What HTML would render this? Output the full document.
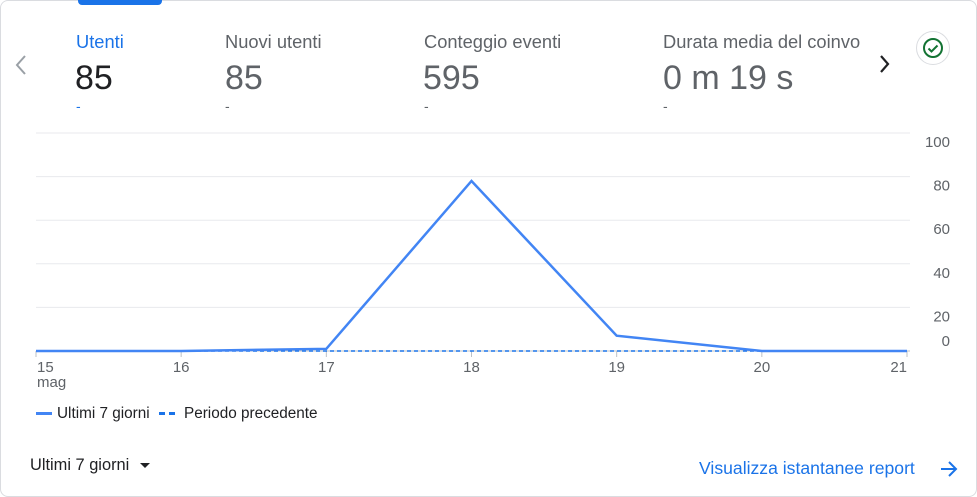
<!DOCTYPE html>
<html><head><meta charset="utf-8"><style>
body{margin:0;width:977px;height:497px;background:#fff;font-family:"Liberation Sans",sans-serif;overflow:hidden;position:relative}
.card{position:absolute;left:0;top:0;width:975px;height:495px;border:1px solid #dadce0;border-radius:8px;background:#fff}
.t{position:absolute;white-space:nowrap}
.lab{font-size:18.3px;color:#5f6368;top:31px}
.val{font-size:34px;color:#5f6368;top:59px}
.dash{font-size:14px;color:#5f6368;top:98px}
</style></head><body>
<div class="card"></div>
<div style="position:absolute;left:78px;top:0;width:84px;height:5px;background:#1a73e8;border-radius:0 0 4px 4px"></div>
<svg width="20" height="24" style="position:absolute;left:12px;top:53px"><path d="M13 3l-8 9 8 9" fill="none" stroke="#9aa0a6" stroke-width="2"/></svg>
<div>
<div class="t lab" style="left:76px;color:#1a73e8">Utenti</div>
<div class="t val" style="left:75px;color:#202124">85</div>
<div class="t dash" style="left:76px;color:#1a73e8">-</div></div>
<div>
<div class="t lab" style="left:225px">Nuovi utenti</div>
<div class="t val" style="left:225px">85</div>
<div class="t dash" style="left:225px">-</div></div>
<div>
<div class="t lab" style="left:424px">Conteggio eventi</div>
<div class="t val" style="left:423px">595</div>
<div class="t dash" style="left:424px">-</div></div>
<div>
<div class="t lab" style="left:663px">Durata media del coinvo</div>
<div class="t val" style="left:663px">0 m 19 s</div>
<div class="t dash" style="left:663px">-</div></div>
<svg width="20" height="24" style="position:absolute;left:876px;top:52px"><path d="M5 4l7 8-7 8" fill="none" stroke="#202124" stroke-width="2.2"/></svg>
<div style="position:absolute;left:916px;top:31px;width:34px;height:34px;border-radius:50%;border:1px solid #dadce0;box-sizing:border-box">
<svg width="34" height="34" style="position:absolute;left:-1px;top:-1px"><circle cx="17" cy="17" r="9" fill="none" stroke="#137333" stroke-width="2"/><path d="M12.5 17.5l3 3 6-6" fill="none" stroke="#137333" stroke-width="2"/></svg></div>
<svg id="chart" width="977" height="497" style="position:absolute;left:0;top:0"></svg>
<div class="t" style="left:36px;top:405px;font-size:15.3px;color:#202124"><span style="display:inline-block;width:16px;height:3px;background:#4285f4;vertical-align:middle;margin-right:5px"></span>Ultimi 7 giorni</div>
<div class="t" style="left:159px;top:405px;font-size:15.3px;color:#202124"><span style="display:inline-block;width:6px;height:3px;background:#1a73e8;vertical-align:middle;margin-right:4px"></span><span style="display:inline-block;width:6px;height:3px;background:#1a73e8;vertical-align:middle;margin-right:9px"></span>Periodo precedente</div>
<div class="t" style="left:30px;top:456px;font-size:16.4px;color:#202124">Ultimi 7 giorni <span style="display:inline-block;width:0;height:0;border-left:5px solid transparent;border-right:5px solid transparent;border-top:5px solid #202124;vertical-align:middle;margin-left:6px"></span></div>
<div class="t" style="left:699px;top:458px;font-size:17.6px;color:#1a73e8">Visualizza istantanee report</div>
<svg width="20" height="20" style="position:absolute;left:939px;top:459px"><path d="M2 10h15M10 3l7 7-7 7" fill="none" stroke="#1a73e8" stroke-width="2"/></svg>
<script>
const categories=["15","16","17","18","19","20","21"];
const current=[0,0,1,78,7,0,0];
const previous=[0,0,0,0,0,0,0];
const yTicks=[0,20,40,60,80,100];
const NS="http://www.w3.org/2000/svg";
const svg=document.getElementById('chart');
const x0=36,x1=907,y0=351,y100=133;
const xs=i=>x0+(x1-x0)*i/(categories.length-1);
const ys=v=>y0-(y0-y100)*v/100;
function mk(t,a){const e=document.createElementNS(NS,t);for(const k in a)e.setAttribute(k,a[k]);svg.appendChild(e);return e;}
yTicks.forEach(v=>{
 const l=mk('line',{x1:36,x2:910,y1:ys(v),y2:ys(v),stroke:v===0?'#bdc1c6':'#e8eaed','stroke-width':1});
 
 
 const t=mk('text',{x:950,y:v===0?ys(v)-5:ys(v)+14,'text-anchor':'end','font-size':15,fill:'#5f6368','font-family':'Liberation Sans'});
 t.textContent=v;
 
 
});
categories.forEach((c,i)=>{
 const tk=mk('line',{x1:xs(i),x2:xs(i),y1:351,y2:357,stroke:'#bdc1c6'});
 
 
 const t=mk('text',{x:i===0?37:xs(i),y:372,'text-anchor':i===0?'start':(i===categories.length-1?'end':'middle'),'font-size':15,fill:'#5f6368','font-family':'Liberation Sans'});
 t.textContent=c;
 
 
});
const m=mk('text',{x:37,y:387,'font-size':15,fill:'#5f6368','font-family':'Liberation Sans'});
m.textContent='mag';


const pp=mk('polyline',{points:previous.map((v,i)=>xs(i)+','+ys(v)).join(' '),fill:'none',stroke:'#1a73e8','stroke-width':1.5,'stroke-dasharray':'4 3'});


const cp=mk('polyline',{points:current.map((v,i)=>xs(i)+','+ys(v)).join(' '),fill:'none',stroke:'#4285f4','stroke-width':2.5,'stroke-linejoin':'miter'});


</script>
</body></html>
